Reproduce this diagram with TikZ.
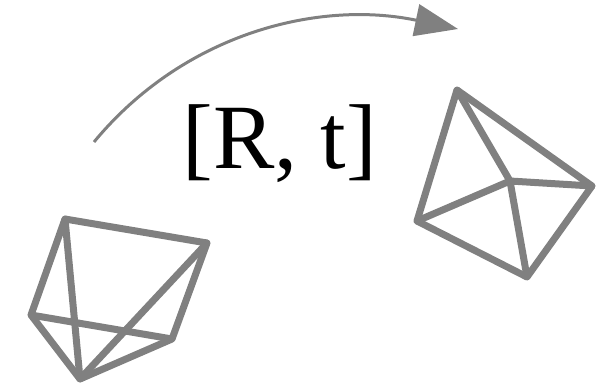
\documentclass[tikz,border=0pt]{standalone}
\usepackage{fontspec}
\setmainfont{Liberation Serif}
\usetikzlibrary{arrows.meta}
\definecolor{edgegray}{gray}{0.5}
\tikzset{
  vtx/.style={inner sep=0pt, minimum size=0pt},
  edge/.style={draw=edgegray, line width=7pt, line cap=round},
  motion/.style={draw=edgegray, line width=3pt, -{Triangle[length=43pt, width=32pt]}},
  pose/.style={font=\fontsize{92}{92}\selectfont, inner sep=0pt}
}
\begin{document}
\begin{tikzpicture}[x=1pt, y=-1pt]
\useasboundingbox (0,0) rectangle (605,385);

% first pose
\node[vtx] (atop) at (65,219) {};
\node[vtx] (aright) at (207,243) {};
\node[vtx] (alow) at (172,339) {};
\node[vtx] (aleft) at (31,315) {};
\node[vtx] (abot) at (80,379) {};
\foreach \a/\b in {atop/aright, atop/aleft, atop/abot, aright/alow, aright/abot, aleft/alow, aleft/abot, alow/abot}
  \draw[edge] (\a) -- (\b);

% second pose
\node[vtx] (btop) at (457,90) {};
\node[vtx] (bright) at (592,186) {};
\node[vtx] (bmid) at (510,181) {};
\node[vtx] (bleft) at (417,221) {};
\node[vtx] (bbot) at (527,277) {};
\foreach \a/\b in {btop/bright, btop/bleft, btop/bmid, bmid/bleft, bmid/bright, bmid/bbot, bleft/bbot, bright/bbot}
  \draw[edge] (\a) -- (\b);

% motion between them
\coordinate (from) at (94,142);
\coordinate (to) at (458,29);
\draw[motion] (from) .. controls (185,32) and (320,0) .. (to);
\node[pose] (rt) at (280,144) {[R, t]};
\end{tikzpicture}
\end{document}
